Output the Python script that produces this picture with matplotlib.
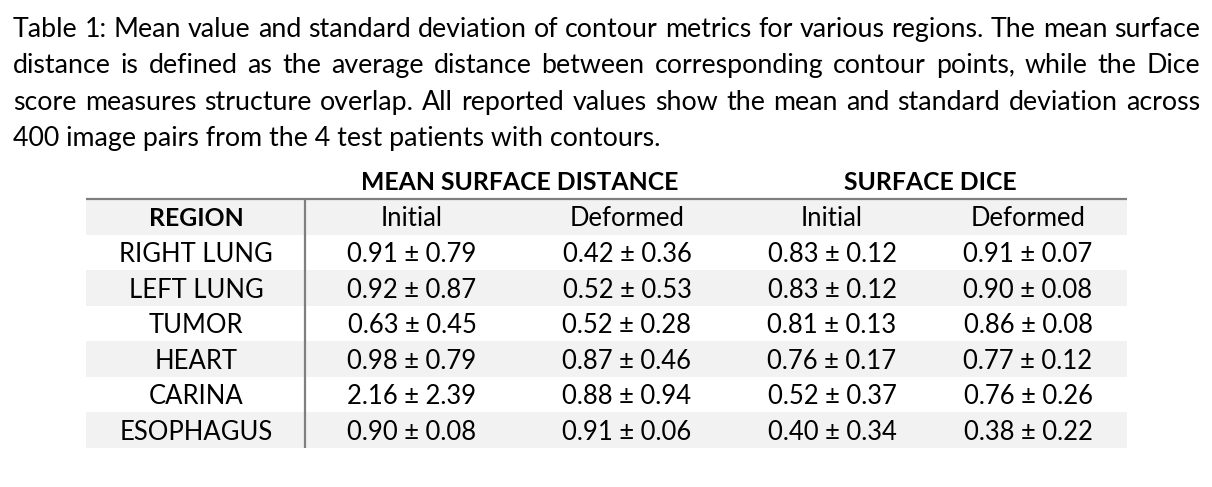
import matplotlib
matplotlib.use("Agg")
import matplotlib.pyplot as plt
from matplotlib.patches import Rectangle

# ---------------- data ----------------
caption_lines = [
    "Table 1: Mean value and standard deviation of contour metrics for various regions. The mean surface",
    "distance is defined as the average distance between corresponding contour points, while the Dice",
    "score measures structure overlap. All reported values show the mean and standard deviation across",
    "400 image pairs from the 4 test patients with contours.",
]
group_headers = ["MEAN SURFACE DISTANCE", "SURFACE DICE"]
col_headers = ["REGION", "Initial", "Deformed", "Initial", "Deformed"]
regions = ["RIGHT LUNG", "LEFT LUNG", "TUMOR", "HEART", "CARINA", "ESOPHAGUS"]
msd_init_mean = [0.91, 0.92, 0.63, 0.98, 2.16, 0.90]
msd_init_std = [0.79, 0.87, 0.45, 0.79, 2.39, 0.08]
msd_def_mean = [0.42, 0.52, 0.52, 0.87, 0.88, 0.91]
msd_def_std = [0.36, 0.53, 0.28, 0.46, 0.94, 0.06]
dice_init_mean = [0.83, 0.83, 0.81, 0.76, 0.52, 0.40]
dice_init_std = [0.12, 0.12, 0.13, 0.17, 0.37, 0.34]
dice_def_mean = [0.91, 0.90, 0.86, 0.77, 0.76, 0.38]
dice_def_std = [0.07, 0.08, 0.08, 0.12, 0.26, 0.22]

# ---------------- layout ----------------
W, H = 1212, 487
FONT = "Lato"
fig = plt.figure(figsize=(W / 100, H / 100), dpi=100)
ax = fig.add_axes([0, 0, 1, 1])
ax.set_xlim(0, W)
ax.set_ylim(H, 0)
ax.axis("off")
renderer = fig.canvas.get_renderer()


def text_width(s, size, weight="normal"):
    t = ax.text(0, 0, s, fontsize=size, fontfamily=FONT, fontweight=weight)
    w = t.get_window_extent(renderer).width
    t.remove()
    return w


# caption
cap_left, cap_right = 13, 1200
cap_size = 20 * 646 / text_width(caption_lines[3], 20)
cap_baselines = [37, 73.3, 109.6, 146]
for i, line in enumerate(caption_lines):
    yb = cap_baselines[i]
    if i < len(caption_lines) - 1:
        words = line.split()
        ws = [text_width(w, cap_size) for w in words]
        gap = (cap_right - cap_left - sum(ws)) / (len(words) - 1)
        x = cap_left
        for w, wd in zip(words, ws):
            ax.text(x, yb, w, fontsize=cap_size, fontfamily=FONT,
                    ha="left", va="baseline", color="black")
            x += wd + gap
    else:
        ax.text(cap_left, yb, line, fontsize=cap_size, fontfamily=FONT,
                ha="left", va="baseline", color="black")

# table
tab_left, tab_right = 86, 1127
top, bottom = 199, 448
n_rows = len(regions) + 1
row_h = (bottom - top) / n_rows
col_x = [196, 412, 627, 832, 1028]
group_x = [520, 930]
vline_x = 305
gray = "#f2f2f2"
line_col = "#7f7f7f"

body_size = 20 * 129 / text_width("0.91 \u00b1 0.79", 20)
bold_size = 20 * 317 / text_width(group_headers[0], 20, "bold")

for r in range(n_rows):
    if r % 2 == 0:
        ax.add_patch(Rectangle((tab_left, top + r * row_h), tab_right - tab_left, row_h,
                               facecolor=gray, edgecolor="none", zorder=0))

ax.plot([tab_left, tab_right], [top, top], color=line_col, lw=1.6, solid_capstyle="butt", zorder=2)
ax.plot([vline_x, vline_x], [top, bottom], color=line_col, lw=1.6, solid_capstyle="butt", zorder=2)

for gx, g in zip(group_x, group_headers):
    ax.text(gx, 190, g, fontsize=bold_size, fontfamily=FONT, fontweight="bold",
            ha="center", va="baseline", color="black")

def baseline(r):
    return top + (r + 0.5) * row_h + 9.6

for j, h in enumerate(col_headers):
    ax.text(col_x[j], baseline(0), h, fontsize=bold_size if j == 0 else body_size,
            fontfamily=FONT, fontweight="bold" if j == 0 else "normal",
            ha="center", va="baseline", color="black")

cols = [(msd_init_mean, msd_init_std), (msd_def_mean, msd_def_std),
        (dice_init_mean, dice_init_std), (dice_def_mean, dice_def_std)]
for i, reg in enumerate(regions):
    yb = baseline(i + 1)
    ax.text(col_x[0], yb, reg, fontsize=body_size, fontfamily=FONT,
            ha="center", va="baseline", color="black")
    for j, (m, s) in enumerate(cols):
        ax.text(col_x[j + 1], yb, f"{m[i]:.2f} \u00b1 {s[i]:.2f}", fontsize=body_size,
                fontfamily=FONT, ha="center", va="baseline", color="black")

fig.savefig("out.png", dpi=100, facecolor="white")
